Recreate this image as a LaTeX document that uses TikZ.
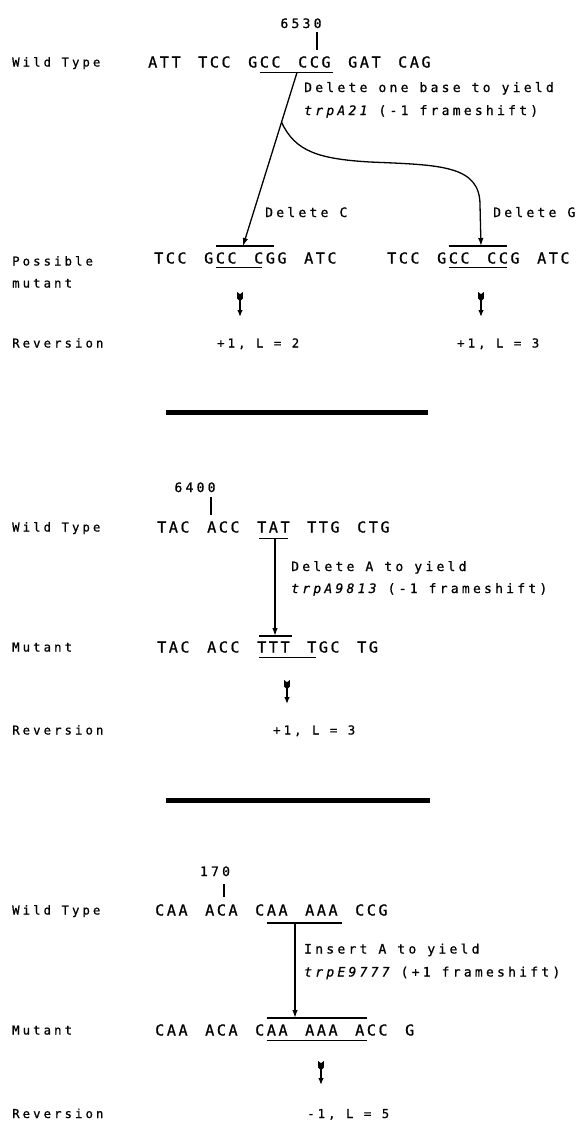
\documentclass[tikz,border=0pt]{standalone}
\usepackage{fontspec}
\usetikzlibrary{arrows.meta,calc}
\newfontfamily\monofam[LetterSpace=25,FakeBold=0.8]{DejaVu Sans Mono}
\newfontfamily\seqfam[LetterSpace=17,FakeBold=0.8]{DejaVu Sans Mono}

% one codon per node, codons 50pt apart
\newcommand\codonrow[4]{%
  \foreach \c [count=\i] in {#4} {\node[seqtxt] (#1\i) at ({#2+50*(\i-1)},#3) {\c};}}

\tikzset{
  lbl/.style={font=\monofam\fontsize{12.3}{14}\selectfont, anchor=base west, inner sep=0pt},
  seqtxt/.style={font=\seqfam\fontsize{15.1}{17}\selectfont, anchor=base west, inner sep=0pt},
  notetxt/.style={font=\monofam\fontsize{13}{15}\selectfont, anchor=base west, inner sep=0pt},
  numtxt/.style={font=\monofam\fontsize{13}{15}\selectfont, anchor=base, inner sep=0pt},
  rule/.style={line width=1.1pt},
  conn/.style={line width=1.3pt, -{Latex[length=8pt,width=5.5pt]}},
  revconn/.style={line width=1.3pt, -{Latex[length=7pt,width=5.5pt]}},
  sepbar/.style={line width=5pt},
  fletch/.pic={\fill (-2.8,0) -- (0,2.3) -- (2.8,0) -- (2.8,6.5) -- (0,9.5) -- (-2.8,6.5) -- cycle;}
}

\begin{document}
\begin{tikzpicture}[x=1pt,y=-1pt]
\useasboundingbox (0,0) rectangle (578,1125);
\fill[white] (0,0) rectangle (578,1125);
\def\p{11.7}

% ---------------- trpA21 ----------------
\node[numtxt] (n6530) at (301,28) {6530};
\draw[rule] (317,32) -- (317,50);
\node[lbl] (wt1) at (12,66.5) {Wild Type};
\codonrow{a}{148}{67.5}{ATT,TCC,GCC,CCG,GAT,CAG}
\draw[rule] ($(a3.base west)+(\p,5)$) -- ($(a4.base west)+(35,5)$);

\coordinate (t1) at (297,72.5);
\coordinate (h1) at (243,246);
\coordinate (br) at ($(t1)!0.286!(h1)$);
\coordinate (h2) at (481,246);
\draw[conn] (t1) -- (h1);
\draw[conn] (br) .. controls (295,152) and (320,159) .. (370,162)
               .. controls (440,165) and (480,165) .. (480,205) -- (h2);

\node[notetxt] (d1) at (304,92) {Delete one base to yield};
\node[notetxt] (d2) at (304,115) {{\itshape trpA21} (-1 frameshift)};
\node[notetxt] (dc) at (265,217) {Delete C};
\node[notetxt] (dg) at (493,217) {Delete G};

\node[lbl] (pm1) at (12,265.5) {Possible};
\node[lbl] (pm2) at (12,287.5) {mutant};
\codonrow{b}{154}{263.5}{TCC,GCC,CGG,ATC}
\codonrow{c}{387}{263.5}{TCC,GCC,CCG,ATC}
\draw[rule] ($(b2.base west)+(\p,-17.5)$) -- ($(b3.base west)+(20,-17.5)$);
\draw[rule] ($(b2.base west)+(\p,4)$) -- ($(b3.base west)+(8.3,4)$);
\draw[rule] ($(c2.base west)+(\p,-17.5)$) -- ($(c3.base west)+(20,-17.5)$);
\draw[rule] ($(c2.base west)+(\p,4)$) -- ($(c3.base west)+(20,4)$);

\coordinate (r1a) at (240,292); \coordinate (r1b) at (240,317);
\coordinate (r2a) at (481,292); \coordinate (r2b) at (481,317);
\pic at (r1a) {fletch}; \draw[revconn] ($(r1a)+(0,7)$) -- (r1b);
\pic at (r2a) {fletch}; \draw[revconn] ($(r2a)+(0,7)$) -- (r2b);

\node[lbl] (rv1) at (12,347.5) {Reversion};
\node[lbl] (rv1a) at (217,347.5) {+1, L = 2};
\node[lbl] (rv1b) at (457,347.5) {+1, L = 3};

\draw[sepbar] (166,412) -- (428,412);

% ---------------- trpA9813 ----------------
\node[numtxt] (n6400) at (195,492) {6400};
\draw[rule] (211,497) -- (211,515);
\node[lbl] (wt2) at (12,531.5) {Wild Type};
\codonrow{d}{157}{532.5}{TAC,ACC,TAT,TTG,CTG}
\draw[rule] ($(d3.base west)+(2,6)$) -- ($(d3.base west)+(31,6)$);

\coordinate (t3) at (275,538.5);
\coordinate (h3) at (275,636);
\draw[conn] (t3) -- (h3);
\node[notetxt] (d3a) at (291,571) {Delete A to yield};
\node[notetxt] (d3b) at (291,593) {{\itshape trpA9813} (-1 frameshift)};

\node[lbl] (mu2) at (12,651.5) {Mutant};
\codonrow{e}{157}{652.5}{TAC,ACC,TTT,TGC,TG}
\draw[rule] ($(e3.base west)+(2,-16.5)$) -- ($(e3.base west)+(35,-16.5)$);
\draw[rule] ($(e3.base west)+(2,5)$) -- ($(e4.base west)+(9,5)$);

\coordinate (r3a) at (287,680); \coordinate (r3b) at (287,704);
\pic at (r3a) {fletch}; \draw[revconn] ($(r3a)+(0,7)$) -- (r3b);

\node[lbl] (rv2) at (12,734.5) {Reversion};
\node[lbl] (rv2a) at (273,734.5) {+1, L = 3};

\draw[sepbar] (166,800) -- (430,800);

% ---------------- trpE9777 ----------------
\node[numtxt] (n170) at (215,876) {170};
\draw[rule] (224,884) -- (224,897);
\node[lbl] (wt3) at (12,914.5) {Wild Type};
\codonrow{f}{155}{915.5}{CAA,ACA,CAA,AAA,CCG}
\draw[rule] ($(f3.base west)+(\p,7.5)$) -- ($(f4.base west)+(37,7.5)$);

\coordinate (t4) at (295,923);
\coordinate (h4) at (295,1018);
\draw[conn] (t4) -- (h4);
\node[notetxt] (d4a) at (304,953.5) {Insert A to yield};
\node[notetxt] (d4b) at (304,976.5) {{\itshape trpE9777} (+1 frameshift)};

\node[lbl] (mu3) at (12,1034.5) {Mutant};
\codonrow{g}{155}{1035.5}{CAA,ACA,CAA,AAA,ACC,G}
\draw[rule] ($(g3.base west)+(\p,-17.5)$) -- ($(g5.base west)+(12,-17.5)$);
\draw[rule] ($(g3.base west)+(\p,5)$) -- ($(g5.base west)+(12,5)$);

\coordinate (r4a) at (321,1061); \coordinate (r4b) at (321,1085);
\pic at (r4a) {fletch}; \draw[revconn] ($(r4a)+(0,7)$) -- (r4b);

\node[lbl] (rv3) at (12,1118) {Reversion};
\node[lbl] (rv3a) at (307,1118) {-1, L = 5};
\end{tikzpicture}
\end{document}
